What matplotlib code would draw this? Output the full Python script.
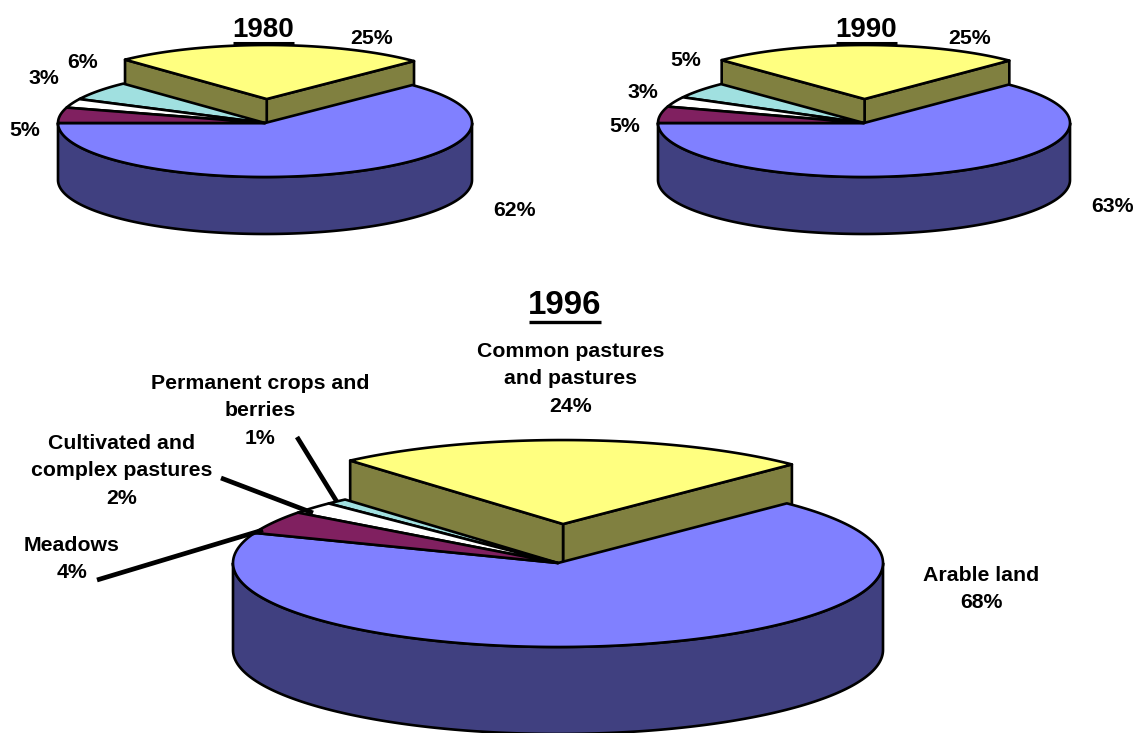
import numpy as np
import matplotlib
matplotlib.use('Agg')
import matplotlib.pyplot as plt
from matplotlib.patches import Polygon

plt.rcParams['font.family'] = ['Liberation Sans', 'DejaVu Sans']

# slice order is counter clockwise from the start angle
categories = ['Arable land', 'Common pastures and pastures', 'Permanent crops and berries',
              'Cultivated and complex pastures', 'Meadows']
values_1980 = [62.4, 24.6, 5.7, 2.7, 4.6]
values_1990 = [62.6, 24.6, 4.9, 3.0, 4.9]
values_1996 = [68.4, 23.8, 1.1, 2.3, 4.4]

top_colors = ['#8080FF', '#FFFF80', '#A0E0E0', '#FFFFFF', '#802060']
side_colors = ['#404080', '#808040', '#508080', '#808080', '#401030']


def ellipse_pts(cx, cy, rx, ry, a0, a1, n=200):
    t = np.radians(np.linspace(a0, a1, n))
    return np.column_stack([cx + rx * np.cos(t), cy - ry * np.sin(t)])


def draw_pie(ax, values, cx, cy, rx, ry, depth, start, explode, lw):
    vals = np.array(values, dtype=float)
    ang = start + np.concatenate([[0], np.cumsum(vals / vals.sum() * 360)])
    line = dict(edgecolor='black', linewidth=lw, joinstyle='round')

    # exploded slice (index 1)
    a0, a1 = ang[1], ang[2]
    mid = np.radians((a0 + a1) / 2)
    ex = cx + explode * rx * np.cos(mid)
    ey = cy - explode * ry * np.sin(mid)
    arc = ellipse_pts(ex, ey, rx, ry, a0, a1)
    for p in (arc[0], arc[-1]):
        wall = [(ex, ey), tuple(p), (p[0], p[1] + depth), (ex, ey + depth)]
        ax.add_patch(Polygon(wall, facecolor=side_colors[1], zorder=2, **line))

    # outer wall of the main body
    front = ellipse_pts(cx, cy, rx, ry, 180, 360)
    lower = front[::-1] + [0, depth]
    ax.add_patch(Polygon(np.vstack([front, lower]), facecolor=side_colors[0], zorder=3, **line))

    # top faces of the slices that stay in place
    for i in [0, 2, 3, 4]:
        pts = ellipse_pts(cx, cy, rx, ry, ang[i], ang[i + 1])
        ax.add_patch(Polygon(np.vstack([[cx, cy], pts]), facecolor=top_colors[i], zorder=4, **line))

    ax.add_patch(Polygon(np.vstack([[ex, ey], arc]), facecolor=top_colors[1], zorder=5, **line))


def title(ax, txt, x, y, size, x0, x1, uy, ulw):
    ax.text(x, y, txt, fontsize=size, fontweight='bold', ha='center', va='center', color='black', zorder=7)
    ax.plot([x0, x1], [uy, uy], color='black', linewidth=ulw, solid_capstyle='butt', zorder=7)


def label(ax, x, y, txt):
    ax.text(x, y + 1, txt, fontsize=15.3, fontweight='bold', ha='center', va='center',
            color='black', linespacing=1.54, zorder=7)


def pct(v):
    return f'{round(v)}%'


fig = plt.figure(figsize=(11.35, 7.33), dpi=100)
ax = fig.add_axes([0, 0, 1, 1])
ax.set_xlim(0, 1135)
ax.set_ylim(733, 0)
ax.axis('off')

draw_pie(ax, values_1980, 265, 123, 207, 54, 57, 180, 0.444, 1.9)
draw_pie(ax, values_1990, 864, 123, 206, 54, 57, 180, 0.444, 1.9)
draw_pie(ax, values_1996, 558, 563, 325, 84, 87, 159, 0.464, 1.9)

title(ax, '1980', 263, 30, 20, 233, 294, 43, 2.2)
title(ax, '1990', 866, 30, 20, 836, 897, 43, 2.2)
title(ax, '1996', 565, 305, 23.8, 529, 601, 321.5, 2.4)

for (x, y), v in zip([(514, 210), (372, 38), (83, 62), (44, 77), (25, 130)], values_1980):
    label(ax, x, y, pct(v))
for (x, y), v in zip([(1113, 206), (970, 38), (686, 60), (643, 91), (625, 126)], values_1990):
    label(ax, x, y, pct(v))

label(ax, 981, 588, f'{categories[0]}\n{pct(values_1996[0])}')
label(ax, 571, 378, f'Common pastures\nand pastures\n{pct(values_1996[1])}')
label(ax, 260, 410, f'Permanent crops and\nberries\n{pct(values_1996[2])}')
label(ax, 122, 470, f'Cultivated and\ncomplex pastures\n{pct(values_1996[3])}')
label(ax, 72, 558, f'{categories[4]}\n{pct(values_1996[4])}')

# leader lines of the 1996 labels
for x0, y0, x1, y1 in [(297, 437, 337, 502), (221, 478, 313, 513), (97, 580, 263, 530)]:
    ax.plot([x0, x1], [y0, y1], color='black', linewidth=3.4, solid_capstyle='butt', zorder=6)

fig.savefig('out.png', dpi=100, facecolor='white')
